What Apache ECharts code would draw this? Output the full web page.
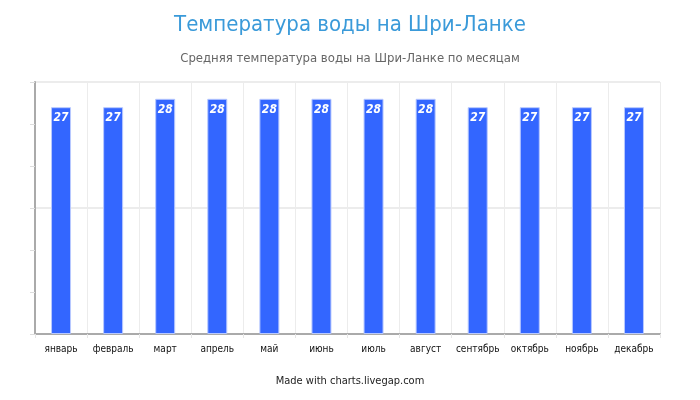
<!DOCTYPE html>
<html>
<head>
<meta charset="utf-8">
<script src="https://cdn.jsdelivr.net/npm/echarts@6/dist/echarts.min.js"></script>
<style>
  html, body { margin: 0; padding: 0; background: #fff; }
  #chart { width: 700px; height: 400px; }
</style>
</head>
<body>
<div id="chart"></div>
<script>
// данные
const months = ['январь', 'февраль', 'март', 'апрель', 'май', 'июнь',
    'июль', 'август', 'сентябрь', 'октябрь', 'ноябрь', 'декабрь'];
const waterTemp = [27, 27, 28, 28, 28, 28, 28, 28, 27, 27, 27, 27];

const font = '"DejaVu Sans Condensed", "Liberation Sans Narrow", sans-serif';

function initChart() {
    const chart = echarts.init(document.getElementById('chart'));
    chart.setOption({
        backgroundColor: '#fff',
        animation: false,
        title: {
            text: 'Температура воды на Шри-Ланке',
            subtext: 'Средняя температура воды на Шри-Ланке по месяцам',
            left: 'center',
            top: 9,
            itemGap: 16,
            textStyle: { color: '#3a9ad9', fontSize: 22, fontWeight: 'normal', fontFamily: font },
            subtextStyle: { color: '#666', fontSize: 13, fontFamily: font }
        },
        graphic: [{
            type: 'text',
            left: 'center',
            top: 376,
            style: { text: 'Made with charts.livegap.com', fill: '#222', font: '11px ' + font }
        }],
        grid: { left: 35, right: 40, top: 82, bottom: 66 },
        xAxis: {
            type: 'category',
            data: months,
            axisLine: { lineStyle: { color: '#aaa', width: 2 } },
            axisTick: { show: true, interval: 0, length: 4, lineStyle: { color: '#e6e6e6' } },
            axisLabel: { interval: 0, color: '#111', fontSize: 10, fontFamily: font, margin: 10 },
            splitLine: { show: true, interval: 0, lineStyle: { color: '#ececec' } }
        },
        yAxis: {
            type: 'value',
            min: 0,
            max: 30,
            interval: 15,
            axisLine: { show: true, lineStyle: { color: '#aaa', width: 2 } },
            axisTick: { show: true, length: 5, lineStyle: { color: '#ddd' } },
            minorTick: { show: true, splitNumber: 3, length: 5, lineStyle: { color: '#ddd' } },
            axisLabel: { show: false },
            splitLine: { show: true, lineStyle: { color: '#ececec', width: 2 } }
        },
        series: [{
            type: 'bar',
            data: waterTemp,
            barWidth: 20,
            itemStyle: { color: '#3366ff', borderColor: '#b8c9ff', borderWidth: 1 },
            label: {
                show: true,
                position: 'insideTop',
                distance: 5,
                color: '#fff',
                fontSize: 12,
                fontStyle: 'italic',
                fontWeight: 'bold',
                fontFamily: font
            }
        }]
    });
}

initChart();
</script>
</body>
</html>
